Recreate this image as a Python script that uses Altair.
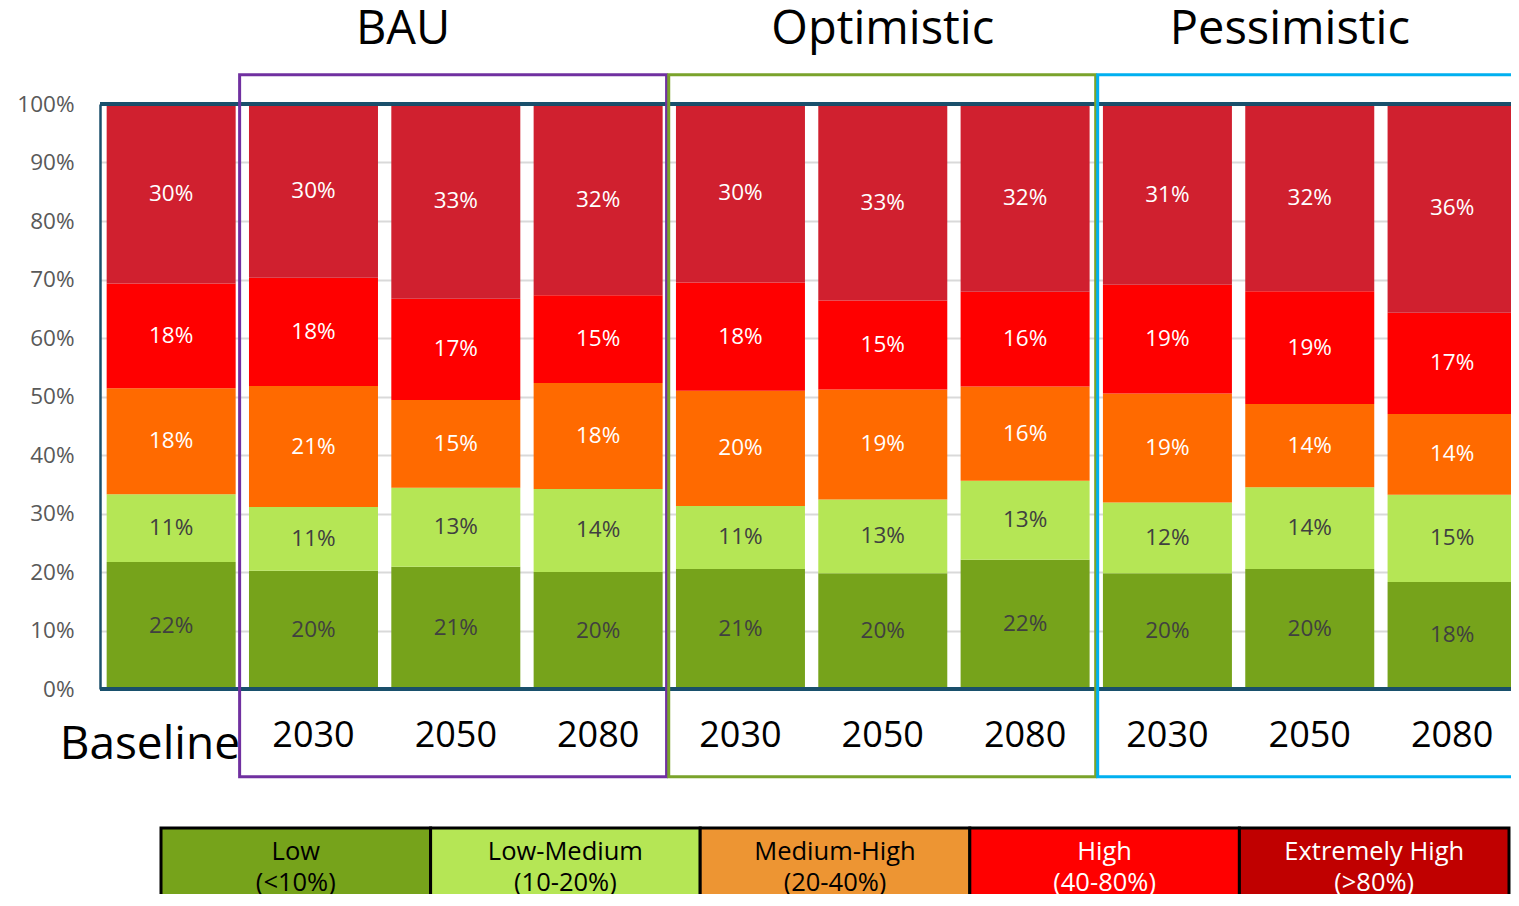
import altair as alt
import pandas as pd

# ---------------- data ----------------
bar_names = ["Baseline", "BAU 2030", "BAU 2050", "BAU 2080",
             "Optimistic 2030", "Optimistic 2050", "Optimistic 2080",
             "Pessimistic 2030", "Pessimistic 2050", "Pessimistic 2080"]
year_labels = ["", "2030", "2050", "2080", "2030", "2050", "2080", "2030", "2050", "2080"]
categories = ["Low", "Low-Medium", "Medium-High", "High", "Extremely High"]

# segment sizes (share of area, %)
low = [21.7, 20.2, 20.9, 20.0, 20.5, 19.8, 22.1, 19.8, 20.5, 18.3]
low_medium = [11.6, 10.9, 13.5, 14.2, 10.8, 12.6, 13.5, 12.1, 14.0, 14.9]
medium_high = [18.1, 20.7, 15.0, 18.1, 19.7, 18.8, 16.1, 18.6, 14.2, 13.8]
high = [17.9, 18.5, 17.3, 15.0, 18.5, 15.2, 16.2, 18.6, 19.3, 17.3]
extremely_high = [30.6, 29.7, 33.3, 32.6, 30.6, 33.5, 32.1, 30.8, 32.0, 35.7]

# value labels as printed on the bars
low_lbl = ["22%", "20%", "21%", "20%", "21%", "20%", "22%", "20%", "20%", "18%"]
low_medium_lbl = ["11%", "11%", "13%", "14%", "11%", "13%", "13%", "12%", "14%", "15%"]
medium_high_lbl = ["18%", "21%", "15%", "18%", "20%", "19%", "16%", "19%", "14%", "14%"]
high_lbl = ["18%", "18%", "17%", "15%", "18%", "15%", "16%", "19%", "19%", "17%"]
extremely_high_lbl = ["30%", "30%", "33%", "32%", "30%", "33%", "32%", "31%", "32%", "36%"]

legend_labels = ["Low\n(<10%)", "Low-Medium\n(10-20%)", "Medium-High\n(20-40%)",
                 "High\n(40-80%)", "Extremely High\n(>80%)"]
scenarios = ["BAU", "Optimistic", "Pessimistic"]
y_ticks = [0, 10, 20, 30, 40, 50, 60, 70, 80, 90, 100]

# ---------------- styles / annotation placement ----------------
bar_colors = ["#76A31B", "#B5E655", "#FF6A00", "#FF0000", "#D0202F"]
bar_text_colors = ["#404040", "#404040", "#FFFFFF", "#FFFFFF", "#FFFFFF"]
legend_colors = ["#76A31B", "#B5E655", "#ED9533", "#FF0000", "#C00000"]
legend_text_colors = ["#000000", "#000000", "#000000", "#FFFFFF", "#FFFFFF"]
scenario_colors = ["#7030A0", "#7AA32B", "#00B0F0"]
frame_start = [0.481, 3.496, 6.51]
frame_end = [3.481, 6.496, 9.7]
title_pos = [1.63, 5.0, 7.86]
baseline_pos = -0.15
FONT = "Open Sans"
FRAME_COLOR = "#1B4F6B"

series = [low, low_medium, medium_high, high, extremely_high]
series_lbl = [low_lbl, low_medium_lbl, medium_high_lbl, high_lbl, extremely_high_lbl]
rows = []
for i, name in enumerate(bar_names):
    for k, cat in enumerate(categories):
        rows.append({"idx": i, "bar": name, "cat": cat, "order": k,
                     "value": series[k][i], "label": series_lbl[k][i]})
df = pd.DataFrame(rows)

years_df = pd.DataFrame({"idx": list(range(len(bar_names))), "year": year_labels})
years_df = years_df[years_df["year"] != ""]
frames_df = pd.DataFrame({"scenario": scenarios, "x0": frame_start, "x1": frame_end, "tx": title_pos})
legend_df = pd.DataFrame({"cat": categories, "label": legend_labels})
base_df = pd.DataFrame({"x": [baseline_pos], "t": ["Baseline"]})

PLOT_W = 1411
xscale = alt.Scale(domain=[-0.5, 9.414], nice=False, zero=False, padding=0)
yscale = alt.Scale(domain=[0, 100], nice=False, padding=0)
yaxis = alt.Axis(values=y_ticks, labelExpr="datum.value + '%'", title=None,
                 labelFont=FONT, labelFontSize=22.5, labelColor="#595959",
                 labelPadding=26, ticks=False, domain=True,
                 domainColor=FRAME_COLOR, domainWidth=2.5,
                 grid=True, gridColor="#D9D9D9", gridWidth=2)

bars = alt.Chart(df).mark_bar(size=129).encode(
    x=alt.X("idx:Q", scale=xscale, axis=None),
    y=alt.Y("value:Q", stack="zero", scale=yscale, axis=yaxis),
    fill=alt.Fill("cat:N", scale=alt.Scale(domain=categories, range=bar_colors), legend=None),
    order=alt.Order("order:Q", sort="ascending"),
)

bar_labels = alt.Chart(df).transform_stack(
    stack="value", as_=["v0", "v1"], groupby=["idx"],
    sort=[alt.SortField("order", order="ascending")]
).transform_calculate(
    mid="(datum.v0 + datum.v1) / 2"
).mark_text(font=FONT, fontSize=22.5, baseline="middle", align="center").encode(
    x=alt.X("idx:Q", scale=xscale, axis=None),
    y=alt.Y("mid:Q", scale=yscale, axis=yaxis),
    text="label:N",
    color=alt.Color("cat:N", scale=alt.Scale(domain=categories, range=bar_text_colors), legend=None),
)

top_rule = alt.Chart(df).mark_rule(color=FRAME_COLOR, strokeWidth=2.5).encode(y=alt.datum(100))
bottom_rule = alt.Chart(df).mark_rule(color=FRAME_COLOR, strokeWidth=2.5).encode(y=alt.datum(0))

frames = alt.Chart(frames_df).mark_rect(filled=False, strokeWidth=3).encode(
    x=alt.X("x0:Q", scale=xscale, axis=None),
    x2="x1:Q",
    y=alt.datum(105),
    y2=alt.datum(-15),
    stroke=alt.Stroke("scenario:N", scale=alt.Scale(domain=scenarios, range=scenario_colors), legend=None),
)

titles = alt.Chart(frames_df).mark_text(font=FONT, fontSize=47, baseline="middle", align="center", color="#000000").encode(
    x=alt.X("tx:Q", scale=xscale, axis=None),
    y=alt.value(-74),
    text="scenario:N",
)

years = alt.Chart(years_df).mark_text(font=FONT, fontSize=36, baseline="middle", align="center", color="#000000").encode(
    x=alt.X("idx:Q", scale=xscale, axis=None),
    y=alt.value(632),
    text="year:N",
)

baseline_txt = alt.Chart(base_df).mark_text(font=FONT, fontSize=46, baseline="middle", align="center", color="#000000").encode(
    x=alt.X("x:Q", scale=xscale, axis=None),
    y=alt.value(641),
    text="t:N",
)

main = alt.layer(bars, bar_labels, top_rule, bottom_rule, frames, titles, years, baseline_txt)

lx = alt.X("cat:N", sort=categories,
           scale=alt.Scale(domain=categories, range=[61, 1409], paddingInner=0, paddingOuter=0),
           axis=None)
legend_rect = alt.Chart(legend_df).mark_rect(stroke="#000000", strokeWidth=3).encode(
    x=lx,
    y=alt.value(724),
    y2=alt.value(830),
    fill=alt.Fill("cat:N", scale=alt.Scale(domain=categories, range=legend_colors), legend=None),
)
legend_text = alt.Chart(legend_df).mark_text(font=FONT, fontSize=25.5, lineBreak="\n", lineHeight=31,
                                             baseline="middle", align="center").encode(
    x=lx,
    y=alt.value(748),
    text="label:N",
    color=alt.Color("cat:N", scale=alt.Scale(domain=categories, range=legend_text_colors), legend=None),
)
legend = alt.layer(legend_rect, legend_text)

chart = alt.layer(main, legend).resolve_scale(
    x="independent", fill="independent", color="independent"
).properties(
    width=PLOT_W, height=585,
    autosize=alt.AutoSizeParams(type="none"),
    padding={"left": 92, "top": 96, "right": 0, "bottom": 205},
).configure_view(stroke="transparent").configure(font=FONT)

chart.save("out.html", embed_options={"renderer": "svg", "actions": False})
